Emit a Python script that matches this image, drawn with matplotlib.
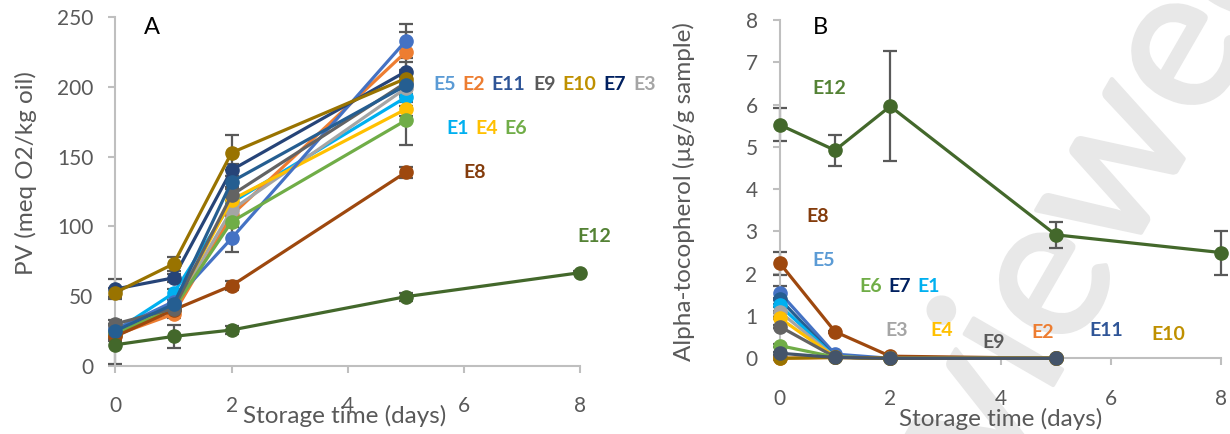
import numpy as np
import matplotlib
matplotlib.use("Agg")
import matplotlib.pyplot as plt
import matplotlib.patheffects as pe

plt.rcParams['font.family'] = ['Lato', 'DejaVu Sans']

W, H = 1230, 434

names = ['E1', 'E2', 'E3', 'E4', 'E5', 'E6', 'E7', 'E8', 'E9', 'E10', 'E11', 'E12']
days = [0, 1, 2, 5]
day_e12_extra = 8

# panel A: peroxide value (meq O2/kg oil), one list per storage day, order E1..E12
pv_day0 = [25, 22, 27, 24, 26, 23, 55, 21, 30, 52.5, 25, 15]
pv_day1 = [52, 37, 41, 42, 46, 41, 63, 40, 41, 73, 44, 21]
pv_day2 = [117, 108, 111.7, 119, 91.4, 103.3, 140.4, 57.4, 122.4, 152.8, 132, 25.6]
pv_day5 = [192.5, 225, 199, 184, 233, 176, 211, 138.7, 203, 206, 201, 49.5]
pv_e12_day8 = 66.7
pv_err_day0 = [3, 3, 3, 3, 3, 3, 7.2, 3, 3, 3, 3, 13.5]
pv_err_day1 = [3, 3, 3, 3, 3, 3, 3, 3, 3, 5, 3, 8]
pv_err_day2 = [4, 4, 4, 4, 9.6, 4, 4, 3, 4, 12.7, 4, 3]
pv_err_day5 = [6, 14.6, 6, 5, 12, 17.5, 7, 4, 6, 6, 6, 3]
pv_err_e12_day8 = 1

# panel B: alpha-tocopherol (ug/g sample)
toco_day0 = [1.25, 0.0, 1.1, 0.95, 1.55, 0.3, 0.12, 2.25, 0.75, 0.0, 1.4, 5.52]
toco_day1 = [0.03, 0.02, 0.03, 0.03, 0.1, 0.03, 0.02, 0.63, 0.03, 0.02, 0.03, 4.92]
toco_day2 = [0.0, 0.0, 0.0, 0.0, 0.0, 0.0, 0.0, 0.05, 0.0, 0.0, 0.0, 5.96]
toco_day5 = [0.0, 0.0, 0.0, 0.0, 0.0, 0.0, 0.0, 0.0, 0.0, 0.0, 0.0, 2.92]
toco_e12_day8 = 2.5
toco_err_day0 = [0.03, 0.03, 0.03, 0.03, 0.15, 0.03, 0.03, 0.27, 0.03, 0.03, 0.03, 0.39]
toco_err_day1 = [0.02] * 11 + [0.37]
toco_err_day2 = [0.01] * 11 + [1.3]
toco_err_day5 = [0.01] * 11 + [0.3]
toco_err_e12_day8 = 0.52

line_colors = ['#00B0F0', '#ED7D31', '#A5A5A5', '#FFC000', '#4472C4', '#70AD47',
               '#264478', '#9E480E', '#636363', '#997300', '#255E91', '#43682B']
label_colors = ['#00B0F0', '#ED7D31', '#A5A5A5', '#FFC000', '#5B9BD5', '#70AD47',
                '#002060', '#843C0C', '#595959', '#BF9000', '#2F5597', '#548235']

# label anchor points in pixels (left edge, vertical centre)
labels_a = {'E5': (433, 84), 'E2': (462, 84), 'E11': (491, 84), 'E9': (533, 84),
            'E10': (562, 84), 'E7': (603, 84), 'E3': (633, 84),
            'E1': (446, 129), 'E4': (475, 129), 'E6': (504, 129),
            'E8': (463, 173), 'E12': (577, 237)}
labels_b = {'E12': (812, 89), 'E8': (806, 217), 'E5': (812, 261),
            'E6': (859, 287), 'E7': (888, 287), 'E1': (917, 287),
            'E3': (885, 331), 'E4': (930, 330), 'E9': (982, 342),
            'E2': (1031, 332), 'E11': (1089, 331), 'E10': (1151, 334)}

grey = '#595959'
axis_grey = '#BFBFBF'


def series(i, d0, d1, d2, d5, last):
    x = list(days)
    y = [d0[i], d1[i], d2[i], d5[i]]
    if names[i] == 'E12':
        x.append(day_e12_extra)
        y.append(last)
    return x, y


def style_axes(ax, yticks):
    ax.patch.set_visible(False)
    for s in ['top', 'right']:
        ax.spines[s].set_visible(False)
    for s in ['left', 'bottom']:
        ax.spines[s].set_color(axis_grey)
        ax.spines[s].set_linewidth(1.5)
    ax.set_xlim(0, 8)
    ax.set_xticks([0, 2, 4, 6, 8])
    ax.set_yticks(yticks)
    ax.set_ylim(yticks[0], yticks[-1])
    ax.tick_params(axis='both', colors=axis_grey, labelcolor=grey, labelsize=15,
                   width=1.5, length=5)
    ax.tick_params(axis='x', pad=17)
    ax.tick_params(axis='y', pad=11)


fig = plt.figure(figsize=(W / 100, H / 100), dpi=100)
axA = fig.add_axes([0.0939, 0.1574, 0.3776, 0.803])
axB = fig.add_axes([0.634, 0.1744, 0.359, 0.7795])

# panel A
for i, name in enumerate(names):
    x, y = series(i, pv_day0, pv_day1, pv_day2, pv_day5, pv_e12_day8)
    _, e = series(i, pv_err_day0, pv_err_day1, pv_err_day2, pv_err_day5, pv_err_e12_day8)
    axA.errorbar(x, y, yerr=e, fmt='none', ecolor=grey, elinewidth=1.6,
                 capsize=4.7, capthick=1.6, zorder=2, clip_on=False)
for i, name in enumerate(names):
    x, y = series(i, pv_day0, pv_day1, pv_day2, pv_day5, pv_e12_day8)
    axA.plot(x, y, '-o', color=line_colors[i], lw=2.3, ms=9.5, zorder=3, clip_on=False)
style_axes(axA, [0, 50, 100, 150, 200, 250])

# panel B
order_b = [7, 4, 10, 0, 2, 3, 8, 5, 1, 9, 6, 11]
colors_b = list(line_colors)
colors_b[6] = '#44546A'
for i in order_b:
    x, y = series(i, toco_day0, toco_day1, toco_day2, toco_day5, toco_e12_day8)
    _, e = series(i, toco_err_day0, toco_err_day1, toco_err_day2, toco_err_day5, toco_err_e12_day8)
    axB.errorbar(x, y, yerr=e, fmt='none', ecolor=grey, elinewidth=1.6,
                 capsize=4.7, capthick=1.6, zorder=2, clip_on=False)
for i in order_b:
    x, y = series(i, toco_day0, toco_day1, toco_day2, toco_day5, toco_e12_day8)
    axB.plot(x, y, '-o', color=colors_b[i], lw=2.3, ms=9.5, zorder=3, clip_on=False)
style_axes(axB, list(range(0, 9)))

# axis titles
axA.text(-0.193, 0.5515, 'PV (meq O2/kg oil)', transform=axA.transAxes, rotation=90,
         ha='center', va='center', fontsize=17.5, color=grey)
axB.text(-0.216, 0.493, 'Alpha-tocopherol (µg/g sample)', transform=axB.transAxes,
         rotation=90, ha='center', va='center', fontsize=17.5, color=grey)
axA.text(0.494, -0.112, 'Storage time (days)', transform=axA.transAxes,
         ha='center', va='top', fontsize=17.5, color=grey)
axB.text(0.4995, -0.147, 'Storage time (days)', transform=axB.transAxes,
         ha='center', va='top', fontsize=17.5, color=grey)

fig.text(144 / W, 1 - 28 / H, 'A', fontsize=17, color='black', va='center')
fig.text(813 / W, 1 - 27 / H, 'B', fontsize=17, color='black', va='center')

# series labels
for lab, (px, py) in labels_a.items():
    fig.text(px / W, 1 - py / H, lab, fontsize=14, fontweight='bold',
             color=label_colors[names.index(lab)], ha='left', va='center', zorder=5)
for lab, (px, py) in labels_b.items():
    fig.text(px / W, 1 - py / H, lab, fontsize=14, fontweight='bold',
             color=label_colors[names.index(lab)], ha='left', va='center', zorder=5)

# light watermark behind the charts
fig.text(1045 / W, 1 - 285 / H, 'Reviewed', rotation=60, rotation_mode='anchor',
         ha='center', va='center', fontsize=145, color='#E8E8E8', zorder=-1,
         path_effects=[pe.withStroke(linewidth=3, foreground='#E8E8E8')])

fig.savefig('out.png', dpi=100)
